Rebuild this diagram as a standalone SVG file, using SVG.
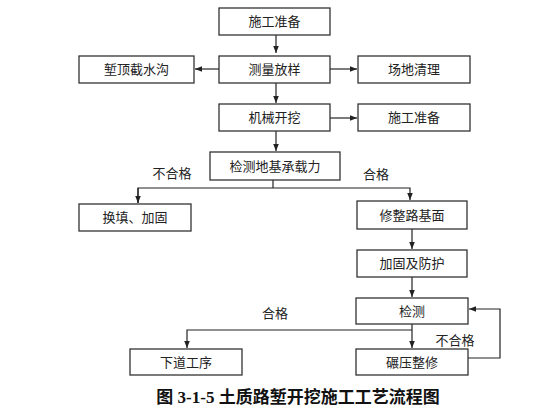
<svg xmlns="http://www.w3.org/2000/svg" width="560" height="420" viewBox="0 0 560 420">
<defs>
<marker id="ah" viewBox="0 0 10 10" refX="10" refY="5" markerWidth="7" markerHeight="7" orient="auto" markerUnits="userSpaceOnUse">
<path d="M0,1 L10,5 L0,9 z" fill="#222"/>
</marker>
<style>
.box rect{fill:#fff;stroke:#333;stroke-width:1.3}
.box text,.lbl{font-family:"Liberation Sans","Noto Sans CJK SC",sans-serif;font-size:13px;fill:#222;text-anchor:middle;dominant-baseline:central}
.conn path{fill:none;stroke:#222;stroke-width:1.2}
.cap{font-family:"Liberation Serif","Noto Sans CJK SC",serif;font-size:17px;font-weight:bold;fill:#111;text-anchor:middle;dominant-baseline:central}
</style>
</defs>
<rect width="560" height="420" fill="#fff"/>
<g class="conn">
<path d="M276,35 V53" marker-end="url(#ah)"/>
<path d="M219,69 H195" marker-end="url(#ah)"/>
<path d="M330,69 H357" marker-end="url(#ah)"/>
<path d="M276,83 V103" marker-end="url(#ah)"/>
<path d="M330,118 H357" marker-end="url(#ah)"/>
<path d="M276,131 V151" marker-end="url(#ah)"/>
<path d="M273,180 V188"/>
<path d="M138,203 V188 H410 V200" marker-end="url(#ah)"/>
<path d="M138,188 V203" marker-end="url(#ah)"/>
<path d="M412,229 V249" marker-end="url(#ah)"/>
<path d="M412,277 V297" marker-end="url(#ah)"/>
<path d="M412,324 V348" marker-end="url(#ah)"/>
<path d="M412,330 H187 V348" marker-end="url(#ah)"/>
<path d="M468,358 H500 V309 H469" marker-end="url(#ah)"/>
</g>
<g id="n1" class="box"><rect x="219" y="8" width="111" height="27"/><text x="274.5" y="21.5">施工准备</text></g>
<g id="n2" class="box"><rect x="219" y="56" width="111" height="27"/><text x="274.5" y="69.5">测量放样</text></g>
<g id="n3" class="box"><rect x="79" y="56" width="115" height="27"/><text x="136.5" y="69.5">堑顶截水沟</text></g>
<g id="n4" class="box"><rect x="358" y="56" width="112" height="27"/><text x="414" y="69.5">场地清理</text></g>
<g id="n5" class="box"><rect x="219" y="104" width="111" height="27"/><text x="274.5" y="117.5">机械开挖</text></g>
<g id="n6" class="box"><rect x="358" y="104" width="112" height="27"/><text x="414" y="117.5">施工准备</text></g>
<g id="n7" class="box"><rect x="210" y="152" width="130" height="28"/><text x="275" y="166">检测地基承载力</text></g>
<g id="n8" class="box"><rect x="79" y="204" width="112" height="27"/><text x="135" y="217.5">换填、加固</text></g>
<g id="n9" class="box"><rect x="357" y="201" width="110" height="28"/><text x="412" y="215">修整路基面</text></g>
<g id="n10" class="box"><rect x="357" y="250" width="110" height="27"/><text x="412" y="263.5">加固及防护</text></g>
<g id="n11" class="box"><rect x="356" y="298" width="112" height="26"/><text x="412" y="311">检测</text></g>
<g id="n12" class="box"><rect x="130" y="349" width="112" height="26"/><text x="186" y="362">下道工序</text></g>
<g id="n13" class="box"><rect x="356" y="349" width="112" height="26"/><text x="412" y="362">碾压整修</text></g>
<text class="lbl" x="172" y="173">不合格</text>
<text class="lbl" x="376" y="174">合格</text>
<text class="lbl" x="275" y="313">合格</text>
<text class="lbl" x="455" y="340">不合格</text>
<text class="cap" x="298" y="397">图 3-1-5 土质路堑开挖施工工艺流程图</text>
</svg>
